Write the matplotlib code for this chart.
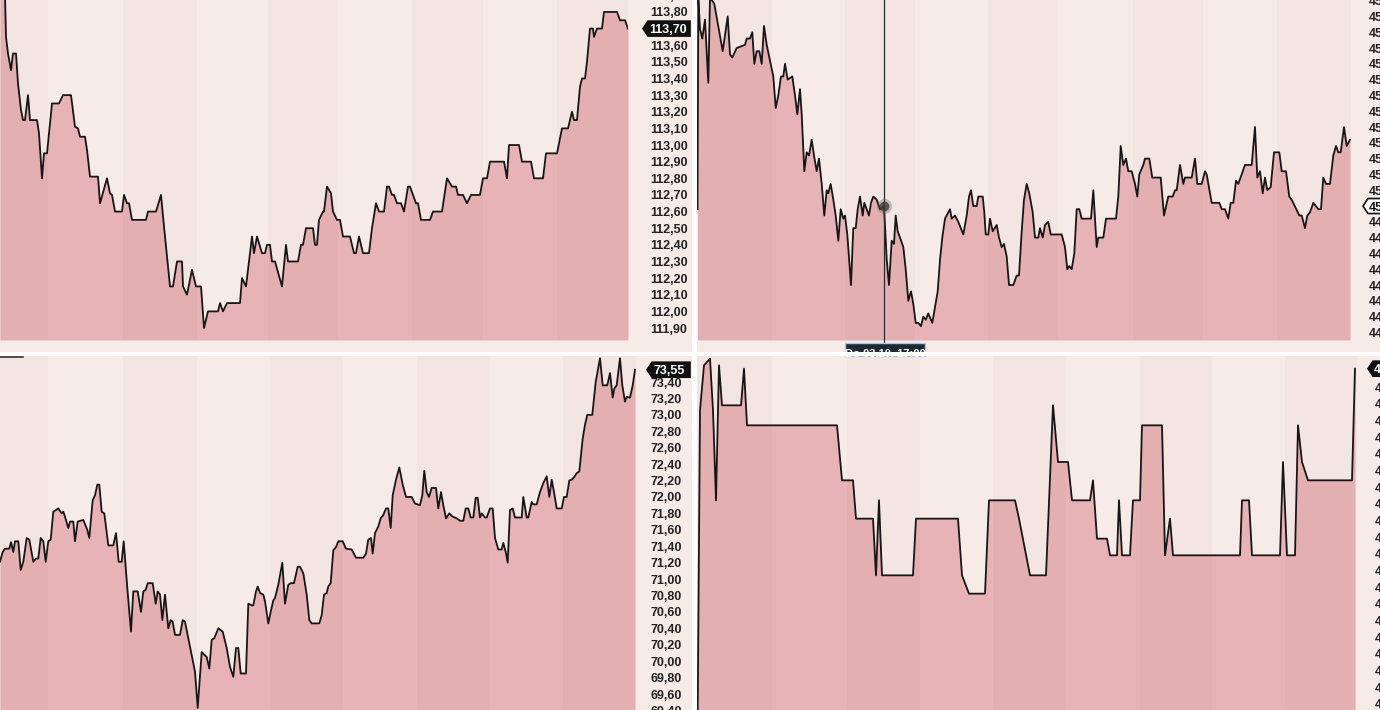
import matplotlib.pyplot as plt
from matplotlib.patches import Rectangle, Polygon
from matplotlib.lines import Line2D

plt.rcParams['font.family'] = ['Liberation Sans', 'DejaVu Sans']

# price series: (time position, price)
top_left = [(0, 114.00), (5, 113.90), (6, 113.65), (8, 113.55), (11, 113.45), (13, 113.55), (16, 113.55),
            (18, 113.37), (21, 113.21), (23, 113.15), (25, 113.15), (28, 113.30), (30, 113.15), (37, 113.15),
            (39, 113.07), (42, 112.80), (44, 112.95), (47, 112.95), (52, 113.25), (59, 113.25), (63, 113.30),
            (71, 113.30), (75, 113.11), (78, 113.10), (80, 113.05), (85, 113.05), (87, 112.97), (90, 112.81),
            (98, 112.81), (100, 112.65), (107, 112.80), (110, 112.71), (112, 112.70), (115, 112.60), (122, 112.60),
            (124, 112.70), (127, 112.65), (129, 112.65), (132, 112.55), (146, 112.55), (148, 112.60), (156, 112.60),
            (161, 112.70), (164, 112.51), (170, 112.15), (173, 112.15), (177, 112.30), (182, 112.30), (183, 112.15),
            (187, 112.10), (192, 112.25), (196, 112.15), (201, 112.15), (204, 111.90), (208, 112.00), (218, 112.00),
            (220, 112.05), (223, 112.00), (227, 112.05), (240, 112.05), (242, 112.20), (246, 112.15), (248, 112.25),
            (252, 112.45), (254, 112.35), (257, 112.45), (262, 112.35), (265, 112.35), (267, 112.40), (270, 112.40),
            (272, 112.30), (275, 112.30), (282, 112.15), (286, 112.40), (288, 112.30), (298, 112.30), (301, 112.40),
            (303, 112.40), (306, 112.50), (310, 112.50), (313, 112.50), (315, 112.40), (317, 112.40), (319, 112.55),
            (323, 112.60), (324, 112.60), (327, 112.75), (331, 112.71), (333, 112.60), (337, 112.55), (340, 112.55),
            (343, 112.45), (350, 112.45), (354, 112.35), (356, 112.35), (359, 112.45), (363, 112.35), (369, 112.35),
            (372, 112.50), (376, 112.65), (379, 112.60), (384, 112.60), (387, 112.75), (389, 112.75), (392, 112.70),
            (394, 112.70), (397, 112.65), (401, 112.65), (404, 112.60), (408, 112.75), (410, 112.75), (416, 112.65),
            (418, 112.65), (421, 112.55), (430, 112.55), (433, 112.60), (442, 112.60), (447, 112.80), (452, 112.75),
            (456, 112.75), (458, 112.70), (463, 112.70), (467, 112.65), (471, 112.70), (480, 112.70), (483, 112.80),
            (487, 112.80), (490, 112.90), (504, 112.90), (507, 112.80), (509, 113.00), (519, 113.00), (522, 112.90),
            (531, 112.90), (534, 112.80), (543, 112.80), (546, 112.95), (557, 112.95), (562, 113.10), (568, 113.10),
            (572, 113.20), (574, 113.15), (577, 113.15), (580, 113.35), (582, 113.40), (585, 113.40), (587, 113.50),
            (590, 113.70), (593, 113.70), (594, 113.65), (597, 113.70), (602, 113.70), (604, 113.80), (617, 113.80),
            (620, 113.75), (625, 113.75), (628, 113.70)]

top_right = [(697.5, 44.99), (698.3, 45.66), (700, 45.56), (702.3, 45.53), (705, 45.59), (708.3, 45.39), (710, 45.66),
             (714.3, 45.64), (722.7, 45.49), (727.7, 45.60), (730, 45.48), (732.3, 45.47), (736.7, 45.50), (745, 45.51),
             (746.7, 45.53), (750, 45.53), (752.3, 45.55), (754.3, 45.45), (756.7, 45.49), (759.3, 45.49), (761.7, 45.45),
             (764, 45.57), (766.7, 45.51), (770, 45.46), (773.3, 45.41), (775.7, 45.31), (778.3, 45.35), (781, 45.41),
             (783.3, 45.41), (785, 45.45), (787.7, 45.40), (792.3, 45.41), (795, 45.35), (797.3, 45.29), (800, 45.37),
             (801.7, 45.29), (804.3, 45.11), (806.7, 45.17), (809, 45.16), (811.7, 45.21), (814, 45.16), (816.7, 45.11),
             (819, 45.15), (821.7, 45.07), (824.3, 44.97), (826.7, 45.05), (828.3, 45.04), (830.7, 45.07), (833.3, 45.02),
             (835.7, 44.97), (838.3, 44.89), (840.7, 44.99), (843.3, 44.96), (845, 44.97), (847.3, 44.91), (851, 44.75),
             (853.3, 44.93), (855.7, 44.93), (857.7, 44.99), (860, 45.03), (862.7, 44.97), (864.3, 45.01), (866.7, 44.99),
             (869, 44.97), (871, 45.01), (873.3, 45.03), (876.7, 45.02), (880, 44.99), (884, 45.00), (886.7, 44.83),
             (889, 44.75), (891.7, 44.89), (894, 44.88), (895.7, 44.97), (897.7, 44.92), (900, 44.90), (903.3, 44.87),
             (905.7, 44.80), (908.3, 44.70), (911, 44.73), (913.3, 44.69), (915.7, 44.63), (918.3, 44.63), (921, 44.62),
             (923.3, 44.65), (925.7, 44.64), (928.3, 44.66), (931, 44.64), (932.3, 44.63), (935, 44.68), (937.7, 44.73),
             (940, 44.83), (942.3, 44.90), (945, 44.96), (950, 44.99), (951.7, 44.96), (955, 44.97), (958.3, 44.95),
             (963.3, 44.91), (966.7, 44.97), (969, 45.03), (971, 45.05), (973.3, 45.00), (976.7, 45.00), (978.3, 45.03),
             (982.7, 45.03), (984.3, 44.98), (985.7, 44.91), (988.3, 44.91), (990, 44.96), (992.7, 44.92), (996.7, 44.94),
             (999, 44.90), (1001.7, 44.87), (1004, 44.88), (1006.7, 44.84), (1009, 44.75), (1013.3, 44.75), (1016.7, 44.78),
             (1019, 44.78), (1021.7, 44.92), (1024, 45.02), (1026.7, 45.07), (1029.3, 45.04), (1032.7, 44.98), (1035, 44.90),
             (1038.3, 44.90), (1040, 44.93), (1042.7, 44.90), (1045, 44.94), (1048.3, 44.95), (1050.7, 44.91), (1061.7, 44.91),
             (1065, 44.87), (1067.3, 44.80), (1069.3, 44.81), (1071.7, 44.80), (1074.3, 44.85), (1076.7, 44.99), (1079.3, 44.99),
             (1081.7, 44.96), (1091, 44.96), (1093.3, 45.05), (1096.7, 44.87), (1098.3, 44.90), (1103.3, 44.90), (1106, 44.96),
             (1116, 44.96), (1118.3, 45.03), (1120.7, 45.19), (1123.3, 45.13), (1126, 45.15), (1128.3, 45.11), (1131.7, 45.11),
             (1135, 45.07), (1137.3, 45.03), (1139.3, 45.10), (1143.3, 45.13), (1145, 45.15), (1149.3, 45.15), (1152.3, 45.09),
             (1160.7, 45.09), (1164, 44.97), (1168.3, 45.03), (1172.7, 45.03), (1175, 45.05), (1176.7, 45.05), (1180, 45.13),
             (1183.3, 45.07), (1185, 45.09), (1191.7, 45.09), (1195, 45.15), (1197.3, 45.07), (1201.7, 45.07), (1205, 45.11),
             (1206.7, 45.10), (1211.7, 45.01), (1219.3, 45.01), (1221.7, 44.99), (1225, 44.99), (1228.3, 44.96), (1230.7, 45.01),
             (1233.3, 45.01), (1236, 45.08), (1238.3, 45.07), (1241.7, 45.10), (1245, 45.13), (1251.7, 45.13), (1255, 45.25),
             (1257.3, 45.09), (1260, 45.11), (1262.7, 45.04), (1265, 45.09), (1267.3, 45.05), (1270.7, 45.06), (1274, 45.17),
             (1279.3, 45.17), (1281.7, 45.11), (1286, 45.11), (1289.3, 45.03), (1291.7, 45.02), (1299.3, 44.97), (1301.7, 44.97),
             (1305, 44.93), (1307.3, 44.97), (1310, 44.98), (1313.3, 45.01), (1318.3, 44.99), (1321, 44.99), (1323.3, 45.09),
             (1326, 45.07), (1330, 45.07), (1333.3, 45.16), (1336, 45.19), (1338.3, 45.17), (1340.7, 45.17), (1344, 45.25),
             (1346.7, 45.19), (1350, 45.21)]

bottom_left = [(0, 71.21), (2.7, 71.33), (5, 71.37), (9.3, 71.37), (11, 71.45), (13.3, 71.33), (15, 71.46), (18.3, 71.46),
               (20.7, 71.11), (23.3, 71.21), (26.7, 71.50), (29.3, 71.48), (33.3, 71.21), (36, 71.25), (38.3, 71.25),
               (40.7, 71.50), (43.3, 71.46), (45.7, 71.21), (48.3, 71.46), (50.7, 71.48), (53.3, 71.82), (58.3, 71.86),
               (61.7, 71.80), (63.3, 71.82), (65, 71.76), (68.3, 71.62), (70, 71.70), (73.3, 71.70), (75, 71.46),
               (77.7, 71.70), (83.3, 71.72), (87.3, 71.60), (89.3, 71.50), (92.7, 71.96), (95, 72.02), (97.3, 72.15),
               (99.3, 72.15), (101.7, 71.82), (104.3, 71.80), (108.3, 71.41), (113.3, 71.41), (116, 71.56), (118.7, 71.21),
               (121.7, 71.21), (123.7, 71.46), (126, 71.09), (127.7, 70.83), (131, 70.36), (133.3, 70.85), (137.7, 70.85),
               (141, 70.60), (143.3, 70.85), (145.7, 70.87), (147.7, 70.95), (152.7, 70.95), (155.7, 70.70), (157.7, 70.85),
               (160, 70.81), (162.3, 70.50), (165, 70.81), (168.3, 70.40), (170.7, 70.50), (172.7, 70.48), (175, 70.32),
               (180, 70.32), (182.7, 70.50), (185, 70.48), (188.3, 70.28), (191.7, 70.07), (195, 69.87), (197.7, 69.43),
               (201.7, 70.11), (205, 70.07), (206.7, 70.05), (209.3, 69.91), (211.7, 70.26), (214.3, 70.28), (218.3, 70.40),
               (222.7, 70.36), (226.7, 70.16), (230, 69.93), (233.3, 69.81), (236, 70.16), (238.3, 70.16), (240.7, 69.85),
               (246, 69.85), (248.3, 70.70), (251.7, 70.68), (253.3, 70.68), (256, 70.85), (257.7, 70.91), (260, 70.83),
               (263.3, 70.81), (265, 70.73), (268.3, 70.46), (270.7, 70.60), (273.3, 70.74), (275, 70.77), (278.3, 70.93),
               (282.3, 71.20), (285, 70.70), (288.3, 70.93), (290.7, 70.95), (294, 70.95), (297.7, 71.15), (300, 71.15),
               (303.3, 71.07), (306.7, 70.81), (309.3, 70.50), (311.7, 70.46), (319.3, 70.46), (321.7, 70.56), (324, 70.81),
               (326.7, 70.83), (328.3, 70.91), (330.7, 70.95), (333.3, 71.35), (336, 71.39), (338.3, 71.46), (342.7, 71.46),
               (346, 71.37), (351.7, 71.36), (356, 71.26), (363.3, 71.26), (366, 71.31), (368.3, 71.48), (371, 71.50),
               (372.7, 71.31), (375, 71.56), (378.3, 71.64), (380.7, 71.74), (383.3, 71.78), (386, 71.86), (388.3, 71.86),
               (390.7, 71.62), (392.7, 72.02), (396, 72.21), (399.3, 72.36), (402.7, 72.15), (406, 72.00), (411.7, 72.00),
               (415, 71.92), (420, 71.90), (422.3, 72.02), (424.3, 72.32), (426.7, 72.06), (429, 72.00), (431.7, 72.11),
               (436, 72.11), (438.3, 71.86), (441, 72.06), (443.3, 71.90), (446, 71.74), (449.3, 71.80), (452.7, 71.76),
               (456.7, 71.74), (460, 71.71), (463.3, 71.71), (465.7, 71.86), (468.3, 71.86), (470.7, 71.75), (473.3, 71.75),
               (475.7, 71.99), (477.7, 71.99), (480, 71.75), (481.7, 71.80), (485, 71.75), (486.7, 71.75), (490, 71.86),
               (492.7, 71.86), (495, 71.50), (498.3, 71.36), (501.7, 71.36), (503.3, 71.44), (505.7, 71.33), (507.7, 71.20),
               (510, 71.84), (512.7, 71.86), (515, 71.75), (521.7, 71.75), (523.3, 72.00), (526.7, 71.75), (528.3, 71.75),
               (531.7, 71.94), (533.3, 71.91), (536.7, 71.91), (540, 72.06), (543.3, 72.17), (546.7, 72.25), (549.3, 72.00),
               (551.7, 72.21), (554.3, 72.04), (556.7, 71.86), (561.7, 71.86), (564, 72.00), (566.7, 72.00), (569.3, 72.20),
               (571.7, 72.21), (574, 72.24), (576.7, 72.29), (579.3, 72.31), (582.7, 72.71), (585, 72.88), (587.3, 73.00),
               (592.3, 73.00), (595.7, 73.40), (600, 73.69), (602.7, 73.36), (607.3, 73.36), (610, 73.51), (612.7, 73.21),
               (614.3, 73.32), (616.7, 73.36), (620, 73.69), (622.3, 73.36), (625, 73.16), (626.7, 73.22), (630, 73.21),
               (632.7, 73.36), (635, 73.55)]

bottom_right = [(697.5, 42.90), (700, 44.86), (704, 45.13), (710, 45.17), (713, 44.86), (716, 44.32), (719, 45.13),
                (722, 44.89), (741, 44.89), (744, 45.11), (747, 44.77), (837, 44.77), (842, 44.44), (853, 44.44),
                (856, 44.21), (873, 44.21), (876, 43.87), (879, 44.32), (882, 43.87), (913, 43.87), (916, 44.21),
                (958, 44.21), (962, 43.87), (969, 43.76), (985, 43.76), (989, 44.32), (1015, 44.32), (1019, 44.21),
                (1030, 43.87), (1046, 43.87), (1053, 44.89), (1058, 44.55), (1068, 44.55), (1072, 44.32), (1090, 44.32),
                (1093, 44.44), (1097, 44.09), (1107, 44.09), (1110, 43.99), (1117, 43.99), (1119, 44.32), (1122, 43.99),
                (1130, 43.99), (1133, 44.32), (1140, 44.32), (1142, 44.77), (1162, 44.77), (1165, 43.99), (1170, 44.21),
                (1173, 43.99), (1240, 43.99), (1242, 44.32), (1249, 44.32), (1252, 43.99), (1280, 43.99), (1283, 44.55),
                (1287, 43.99), (1295, 43.99), (1298, 44.77), (1302, 44.55), (1308, 44.44), (1352, 44.44), (1355, 45.11)]

# y axis labels of each screen
top_left_ticks = [111.90, 112.00, 112.10, 112.20, 112.30, 112.40, 112.50, 112.60, 112.70, 112.80, 112.90,
                  113.00, 113.10, 113.20, 113.30, 113.40, 113.50, 113.60, 113.70, 113.80, 113.90]
top_right_ticks = [44.60, 44.65, 44.70, 44.75, 44.80, 44.85, 44.90, 44.95, 45.00, 45.05, 45.10,
                   45.15, 45.20, 45.25, 45.30, 45.35, 45.40, 45.45, 45.50, 45.55, 45.60, 45.65]
bottom_left_ticks = [69.40, 69.60, 69.80, 70.00, 70.20, 70.40, 70.60, 70.80, 71.00, 71.20, 71.40,
                     71.60, 71.80, 72.00, 72.20, 72.40, 72.60, 72.80, 73.00, 73.20, 73.40]
bottom_right_ticks = [43.10, 43.20, 43.30, 43.40, 43.50, 43.60, 43.70, 43.80, 43.90, 44.00,
                      44.10, 44.20, 44.30, 44.40, 44.50, 44.60, 44.70, 44.80, 44.90, 45.00]

# session boundaries, every other session is shaded
top_left_sessions = [0, 48, 123, 197, 268, 338, 412, 483, 557, 628]
top_right_sessions = [697, 772, 845, 915, 988, 1058, 1133, 1203, 1277, 1351]
bottom_left_sessions = [0, 48, 123, 197, 270, 343, 417, 490, 563, 636]
bottom_right_sessions = [697, 772, 847, 920, 993, 1066, 1140, 1212, 1285, 1357]

# price tags on the right axis
top_left_last = 113.70
bottom_left_last = 73.55
bottom_right_last = 45.11
cross_time, cross_price = 884, 45.00

W, H = 1380, 710
BG = '#f7ebe8'
FILL = '#e8b3b6'
LINE = '#161616'
LABEL = '#222222'

fig = plt.figure(figsize=(W / 100, H / 100), dpi=100, facecolor='white')


def frac(x0, y0, x1, y1):
    # pixel box (origin top left) -> figure fraction rect
    return [x0 / W, 1 - y1 / H, (x1 - x0) / W, (y1 - y0) / H]


# light background for each screen, white gaps in between
for box in [(0, 0, 692, 352), (697, 0, 1380, 352), (0, 356, 692, 710), (697, 356, 1380, 710)]:
    r = frac(*box)
    fig.add_artist(Rectangle((r[0], r[1]), r[2], r[3], transform=fig.transFigure,
                             fc=BG, ec='none', zorder=-10))


def draw_panel(box, data, ylim, sessions, ticks, pad):
    ax = fig.add_axes(frac(*box))
    ax.set_facecolor('none')
    t = [p[0] for p in data]
    v = [p[1] for p in data]
    ax.fill_between(t, v, ylim[0], color=FILL, lw=0, zorder=1)
    for a, b in zip(sessions[0::2], sessions[1::2]):
        ax.axvspan(a, b, color='#8b4a3a', alpha=0.035, lw=0, zorder=2)
    ax.plot(t, v, color=LINE, lw=1.3, zorder=3)
    ax.set_xlim(sessions[0], sessions[-1])
    ax.set_ylim(ylim)
    ax.set_xticks([])
    ax.yaxis.tick_right()
    ax.set_yticks(ticks)
    ax.set_yticklabels([f'{x:.2f}'.replace('.', ',') for x in ticks])
    ax.tick_params(axis='y', length=0, pad=pad, labelsize=9, labelcolor=LABEL)
    for lab in ax.get_yticklabels():
        lab.set_fontweight('bold')
    for s in ax.spines.values():
        s.set_visible(False)
    return ax


def tag(ax, value, text, x_tip, x_end, fc, tc, ec):
    # left pointing price tag, x in pixels, y from the axis value
    y = ax.transData.transform((0, value))[1] / H
    h = 7.5 / H
    pts = [(x_tip / W, y), ((x_tip + 5) / W, y + h), (x_end / W, y + h),
           (x_end / W, y - h), ((x_tip + 5) / W, y - h)]
    fig.add_artist(Polygon(pts, closed=True, transform=fig.transFigure,
                           fc=fc, ec=ec, lw=1.2, zorder=5))
    fig.text((x_tip + 6) / W, y, text, color=tc, fontsize=9, fontweight='bold',
             ha='left', va='center_baseline', zorder=6)


ax_tl = draw_panel((0, -12, 628, 340), top_left, (111.828, 113.944), top_left_sessions, top_left_ticks, 15.8)
ax_tr = draw_panel((697, -12, 1351, 340), top_right, (44.576, 45.690), top_right_sessions, top_right_ticks, 13)
ax_bl = draw_panel((0, 356, 636, 722), bottom_left, (69.259, 73.717), bottom_left_sessions, bottom_left_ticks, 10.5)
ax_br = draw_panel((697, 356, 1357, 722), bottom_right, (42.99, 45.186), bottom_right_sessions, bottom_right_ticks, 13)

# crosshair on the top right screen
ax_tr.axvline(cross_time, color='#2b2b2b', lw=0.9, ymin=-0.01, zorder=4, clip_on=False)
ax_tr.plot(cross_time, cross_price, 'o', ms=11, color='#555555', alpha=0.3, mec='none', zorder=5)
ax_tr.plot(cross_time, cross_price, 'o', ms=7, color='#3a3a3a', alpha=0.8, mec='none', zorder=5)

tag(ax_tl, top_left_last, '113,70', 643, 690, '#111111', 'white', '#111111')
tag(ax_tr, cross_price, '45,00', 1363, 1400, 'white', '#111111', '#111111')
tag(ax_bl, bottom_left_last, '73,55', 647, 690, '#111111', 'white', '#111111')
tag(ax_br, bottom_right_last, '45,11', 1368, 1400, '#111111', 'white', '#111111')

# date box of the crosshair, cut by the gap between screens
r = frac(845, 343, 925, 356)
fig.add_artist(Rectangle((r[0], r[1]), r[2], r[3], transform=fig.transFigure,
                         fc='#1e2833', ec='#a8c8e8', lw=1, zorder=7))
fig.text(885 / W, 1 - 354 / H, 'Do 03.10. 17:00', color='white', fontsize=8,
         fontweight='bold', ha='center', va='center', zorder=7)
r = frac(0, 352, W, 356)
fig.add_artist(Rectangle((r[0], r[1]), r[2], r[3], transform=fig.transFigure,
                         fc='white', ec='none', zorder=8))

# small dark stroke at the top left of the lower screen
fig.add_artist(Line2D([0, 23 / W], [1 - 356.5 / H] * 2, color='#333333', lw=1.2, zorder=9))

plt.savefig('out.png', dpi=100, facecolor='white')
